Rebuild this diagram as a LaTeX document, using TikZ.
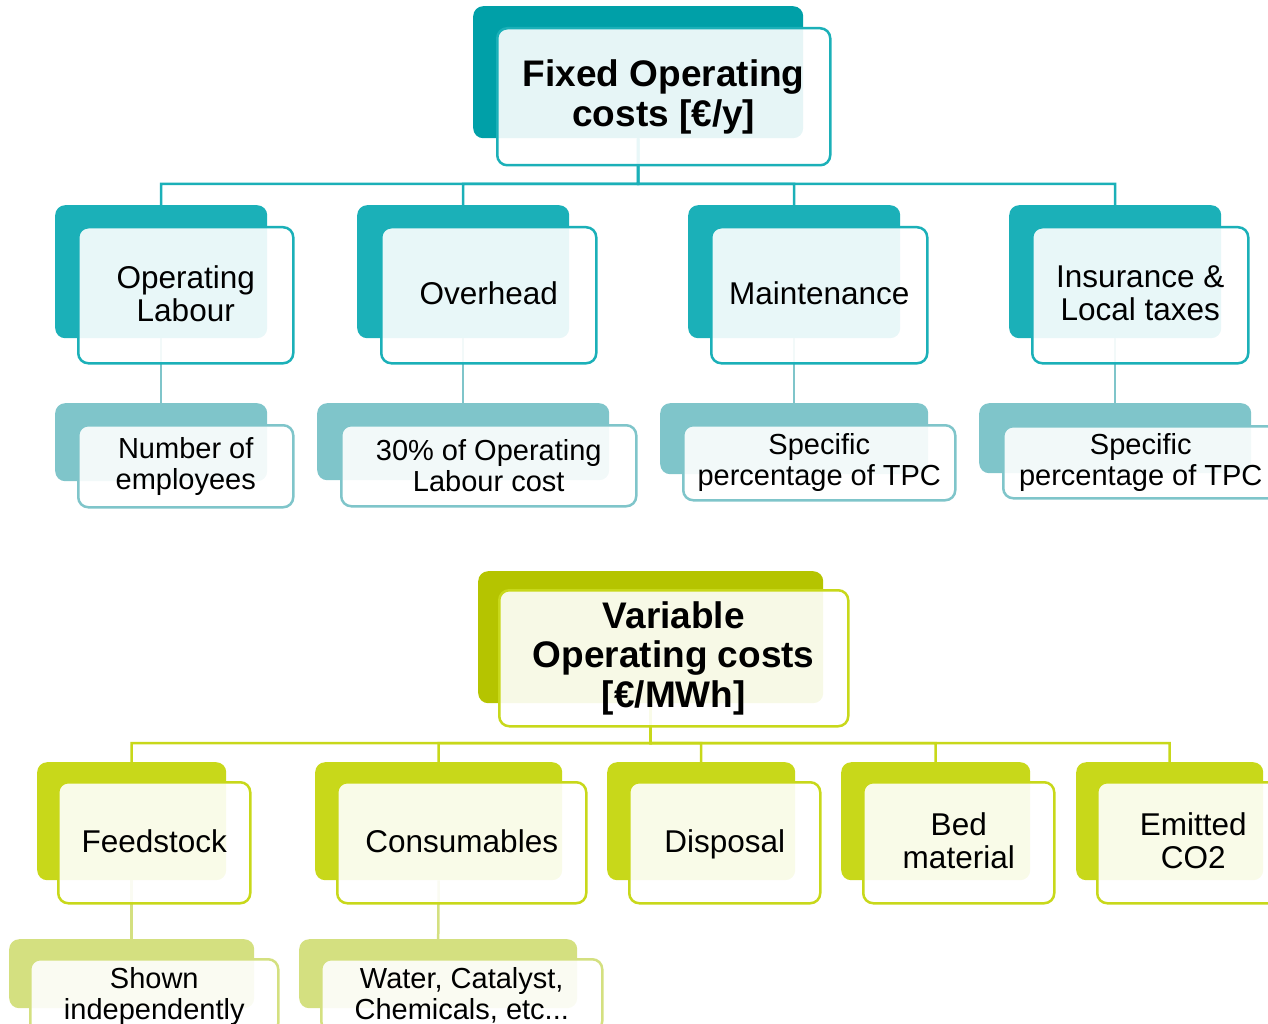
\documentclass[tikz,border=0pt]{standalone}
\usepackage{fontspec}
\setmainfont{Liberation Sans}
\definecolor{tealA}{HTML}{00A0A8}
\definecolor{tealB}{HTML}{1BB0B8}
\definecolor{tealC}{HTML}{7FC5CA}
\definecolor{oliveA}{HTML}{B5C400}
\definecolor{oliveB}{HTML}{C8D81A}
\definecolor{oliveC}{HTML}{D4E080}
\tikzset{
  backbox/.style={anchor=north west, rounded corners=10pt, inner sep=0pt, fill=#1},
  frontbox/.style={anchor=north west, rounded corners=10pt, inner sep=0pt, draw=#1,
    line width=2.5pt, fill=white, fill opacity=0.9, text opacity=1, align=center, text=black},
  conn/.style={draw=#1, line width=2.5pt},
  ftitle/.style={font=\fontsize{37}{39.5}\selectfont\bfseries},
  fone/.style={font=\fontsize{31.5}{33}\selectfont},
  ftwo/.style={font=\fontsize{29}{31}\selectfont},
}
\begin{document}
\begin{tikzpicture}[x=1pt,y=-1pt]
\useasboundingbox (0,0) rectangle (1268,1024);
\clip (0,0) rectangle (1268,1024);

% ---------- fixed operating costs: back plates ----------
\node[backbox=tealA, minimum width=330pt, minimum height=132pt] (T0b) at (473,6) {};
\node[backbox=tealB, minimum width=212pt, minimum height=133pt] (OLb) at (55,205) {};
\node[backbox=tealB, minimum width=212pt, minimum height=133pt] (OHb) at (357,205) {};
\node[backbox=tealB, minimum width=212pt, minimum height=133pt] (MTb) at (688,205) {};
\node[backbox=tealB, minimum width=212pt, minimum height=133pt] (INb) at (1009,205) {};
\node[backbox=tealC, minimum width=212pt, minimum height=78pt] (NEb) at (55,403) {};
\node[backbox=tealC, minimum width=292pt, minimum height=77pt] (PLb) at (317,403) {};
\node[backbox=tealC, minimum width=268pt, minimum height=71pt] (SMb) at (660,403) {};
\node[backbox=tealC, minimum width=272pt, minimum height=70pt] (SIb) at (979,403) {};

% ---------- variable operating costs: back plates ----------
\node[backbox=oliveA, minimum width=345pt, minimum height=132pt] (B0b) at (478,571) {};
\node[backbox=oliveB, minimum width=189pt, minimum height=118pt] (FSb) at (37,762) {};
\node[backbox=oliveB, minimum width=247pt, minimum height=118pt] (CSb) at (315,762) {};
\node[backbox=oliveB, minimum width=188pt, minimum height=118pt] (DPb) at (607,762) {};
\node[backbox=oliveB, minimum width=189pt, minimum height=118pt] (BMb) at (841,762) {};
\node[backbox=oliveB, minimum width=187pt, minimum height=118pt] (ECb) at (1076,762) {};
\node[backbox=oliveC, minimum width=245pt, minimum height=69pt] (SHb) at (9,939) {};
\node[backbox=oliveC, minimum width=278pt, minimum height=69pt] (WCb) at (299,939) {};

% ---------- connectors ----------
\coordinate (busT) at (638,184);
\foreach \c in {OLb,OHb,MTb,INb}
  \draw[conn=tealB] (T0b.south) -- (busT) -| (\c.north);
\draw[conn=tealC] (OLb.south) -- (NEb.north);
\draw[conn=tealC] (OHb.south) -- (PLb.north);
\draw[conn=tealC] (MTb.south) -- (SMb.north);
\draw[conn=tealC] (INb.south) -- (SIb.north);

\coordinate (busB) at (650.5,743);
\foreach \c in {FSb,CSb,DPb,BMb,ECb}
  \draw[conn=oliveB] (B0b.south) -- (busB) -| (\c.north);
\draw[conn=oliveC] (FSb.south) -- (SHb.north);
\draw[conn=oliveC] (CSb.south) -- (WCb.north);

% ---------- fixed operating costs: labelled front panels ----------
\node[frontbox=tealB, ftitle, minimum width=333pt, minimum height=137pt] (T0) at (496,27)
  {Fixed Operating\\costs [€/y]};
\node[frontbox=tealB, fone, minimum width=215pt, minimum height=136pt, text depth=4pt] (OL) at (77,226)
  {Operating\\Labour};
\node[frontbox=tealB, fone, minimum width=215pt, minimum height=136pt, text depth=4pt] (OH) at (380,226)
  {Overhead};
\node[frontbox=tealB, fone, minimum width=216pt, minimum height=136pt, text depth=4pt] (MT) at (710,226)
  {Maintenance};
\node[frontbox=tealB, fone, minimum width=216pt, minimum height=136pt, text depth=4pt] (IN) at (1031,226)
  {Insurance \&\\Local taxes};
\node[frontbox=tealC, ftwo, minimum width=215pt, minimum height=82pt] (NE) at (77,424)
  {Number of\\employees};
\node[frontbox=tealC, ftwo, minimum width=295pt, minimum height=81pt] (PL) at (340,424)
  {30\% of Operating\\Labour cost};
\node[frontbox=tealC, ftwo, minimum width=272pt, minimum height=75pt] (SM) at (682,424)
  {Specific\\percentage of TPC};
\node[frontbox=tealC, ftwo, minimum width=275pt, minimum height=72pt] (SI) at (1002,425)
  {Specific\\percentage of TPC};

% ---------- variable operating costs: labelled front panels ----------
\node[frontbox=oliveB, ftitle, minimum width=349pt, minimum height=136pt] (B0) at (498,589)
  {Variable\\Operating costs\\{}[€/MWh]};
\node[frontbox=oliveB, fone, minimum width=192pt, minimum height=121pt, text depth=4pt] (FS) at (57,781)
  {Feedstock};
\node[frontbox=oliveB, fone, minimum width=249pt, minimum height=121pt, text depth=4pt] (CS) at (336,781)
  {Consumables};
\node[frontbox=oliveB, fone, minimum width=191pt, minimum height=121pt, text depth=4pt] (DP) at (628,781)
  {Disposal};
\node[frontbox=oliveB, fone, minimum width=191pt, minimum height=121pt, text depth=4pt] (BM) at (862,781)
  {Bed\\material};
\node[frontbox=oliveB, fone, minimum width=192pt, minimum height=121pt, text depth=4pt] (EC) at (1096,781)
  {Emitted\\CO2};
\node[frontbox=oliveC, ftwo, minimum width=248pt, minimum height=74pt] (SH) at (29,958)
  {Shown\\independently};
\node[frontbox=oliveC, ftwo, minimum width=281pt, minimum height=72pt] (WC) at (320,958)
  {Water, Catalyst,\\Chemicals, etc...};
\end{tikzpicture}
\end{document}
